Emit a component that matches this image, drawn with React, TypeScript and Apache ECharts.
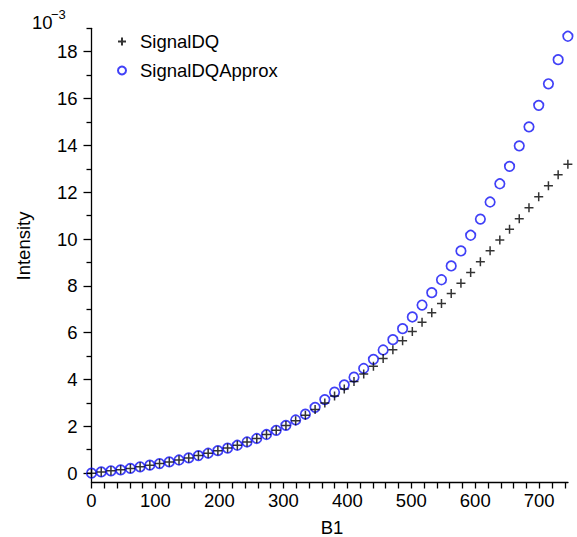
import React, { useEffect, useRef } from "react";
import * as echarts from "echarts";

const b1 = [
  0, 15.2, 30.4, 45.6, 60.8, 76, 91.2, 106.4, 121.6, 136.8,
  152, 167.2, 182.4, 197.6, 212.8, 228, 243.2, 258.4, 273.6, 288.8,
  304, 319.2, 334.4, 349.6, 364.8, 380, 395.2, 410.4, 425.6, 440.8,
  456, 471.2, 486.4, 501.6, 516.8, 532, 547.2, 562.4, 577.6, 592.8,
  608, 623.2, 638.4, 653.6, 668.8, 684, 699.2, 714.4, 729.6, 744.8,
];

const signalDQ = [
  0, 0.05, 0.1, 0.14, 0.2, 0.27, 0.34, 0.41, 0.48, 0.56,
  0.65, 0.75, 0.85, 0.96, 1.07, 1.19, 1.33, 1.48, 1.65, 1.83,
  2.03, 2.24, 2.47, 2.72, 3.0, 3.29, 3.59, 3.91, 4.23, 4.56,
  4.9, 5.27, 5.65, 6.05, 6.45, 6.85, 7.25, 7.67, 8.11, 8.57,
  9.03, 9.5, 9.96, 10.42, 10.87, 11.34, 11.8, 12.27, 12.74, 13.19,
];

const signalDQApprox = [
  0, 0.05, 0.1, 0.14, 0.2, 0.27, 0.34, 0.41, 0.48, 0.56,
  0.65, 0.75, 0.85, 0.96, 1.07, 1.19, 1.33, 1.48, 1.65, 1.83,
  2.04, 2.27, 2.52, 2.81, 3.14, 3.46, 3.77, 4.1, 4.47, 4.86,
  5.26, 5.7, 6.17, 6.67, 7.18, 7.71, 8.26, 8.85, 9.49, 10.16,
  10.85, 11.58, 12.36, 13.1, 13.98, 14.79, 15.71, 16.63, 17.66, 18.66,
];

const xTickLabels = [0, 100, 200, 300, 400, 500, 600, 700];
const xTicks = [
  0, 20, 40, 60, 80, 100, 120, 140, 160, 180, 200, 220, 240, 260, 280, 300,
  320, 340, 360, 380, 400, 420, 440, 460, 480, 500, 520, 540, 560, 580, 600,
  620, 640, 660, 680, 700, 720, 740,
];
const yTickLabels = [0, 2, 4, 6, 8, 10, 12, 14, 16, 18];
const yMinorTicks = [1, 3, 5, 7, 9, 11, 13, 15, 17, 19];

const FONT = '"Liberation Sans", Arial, Helvetica, sans-serif';
const AXIS_LINE = { color: "#000", width: 1.3 };

export default function App() {
  const ref = useRef<HTMLDivElement>(null);

  useEffect(() => {
    const chart = echarts.init(ref.current as HTMLDivElement, null, { renderer: "svg" });
    chart.setOption({
      animation: false,
      backgroundColor: "#fff",
      textStyle: { fontFamily: FONT },
      grid: { left: 91.5, top: 28.3, width: 476.5, height: 454.2, containLabel: false },
      legend: {
        orient: "vertical",
        left: 112,
        top: 27,
        itemWidth: 26,
        itemHeight: 8,
        itemGap: 10,
        selectedMode: false,
        data: ["SignalDQ", "SignalDQApprox"],
        textStyle: { fontSize: 18.5, fontFamily: FONT, color: "#000" },
      },
      xAxis: [
        {
          type: "value",
          min: 0,
          max: 745,
          axisLine: { onZero: false, lineStyle: AXIS_LINE },
          axisTick: { customValues: xTicks, length: 6, lineStyle: AXIS_LINE },
          axisLabel: {
            customValues: xTickLabels,
            margin: 8,
            fontSize: 18.5,
            fontFamily: FONT,
            color: "#000",
          },
          splitLine: { show: false },
        },
      ],
      yAxis: [
        {
          type: "value",
          min: -0.4,
          max: 19,
          position: "left",
          axisLine: { onZero: false, lineStyle: AXIS_LINE },
          axisTick: { customValues: yTickLabels, length: 8, lineStyle: AXIS_LINE },
          axisLabel: {
            customValues: yTickLabels,
            margin: 14,
            fontSize: 18.5,
            fontFamily: FONT,
            color: "#000",
          },
          splitLine: { show: false },
        },
        {
          type: "value",
          min: -0.4,
          max: 19,
          position: "left",
          offset: 0,
          axisLine: { show: false, onZero: false },
          axisTick: { customValues: yMinorTicks, length: 5, lineStyle: AXIS_LINE },
          axisLabel: { show: false },
          splitLine: { show: false },
        },
      ],
      series: [
        {
          name: "SignalDQ",
          type: "scatter",
          data: b1.map((x, i) => [x, signalDQ[i]]),
          symbol: "path://M0,5L10,5M5,0L5,10",
          symbolSize: 9,
          itemStyle: { color: "#000", borderColor: "#000", borderWidth: 1.5 },
          emphasis: { disabled: true },
          z: 3,
        },
        {
          name: "SignalDQApprox",
          type: "scatter",
          data: b1.map((x, i) => [x, signalDQApprox[i]]),
          symbol: "circle",
          symbolSize: 9.5,
          itemStyle: { color: "rgba(0,0,0,0)", borderColor: "#1010f5", borderWidth: 1.7 },
          emphasis: { disabled: true },
          z: 2,
        },
      ],
      graphic: [
        {
          type: "text",
          x: 32,
          y: 22,
          style: { text: "10", fontSize: 18.5, fontFamily: FONT, fill: "#000", align: "left", verticalAlign: "middle" },
        },
        {
          type: "text",
          x: 51,
          y: 14,
          style: { text: "\u22123", fontSize: 13, fontFamily: FONT, fill: "#000", align: "left", verticalAlign: "middle" },
        },
        {
          type: "text",
          x: 23,
          y: 246,
          rotation: Math.PI / 2,
          style: { text: "Intensity", fontSize: 18.5, fontFamily: FONT, fill: "#000", align: "center", verticalAlign: "middle" },
        },
        {
          type: "text",
          x: 332,
          y: 527,
          style: { text: "B1", fontSize: 18.5, fontFamily: FONT, fill: "#000", align: "center", verticalAlign: "middle" },
        },
      ],
    });
    return () => chart.dispose();
  }, []);

  return (
    <div
      ref={ref}
      style={{ position: "fixed", left: 0, top: 0, width: 577, height: 537, background: "#fff" }}
    />
  );
}
